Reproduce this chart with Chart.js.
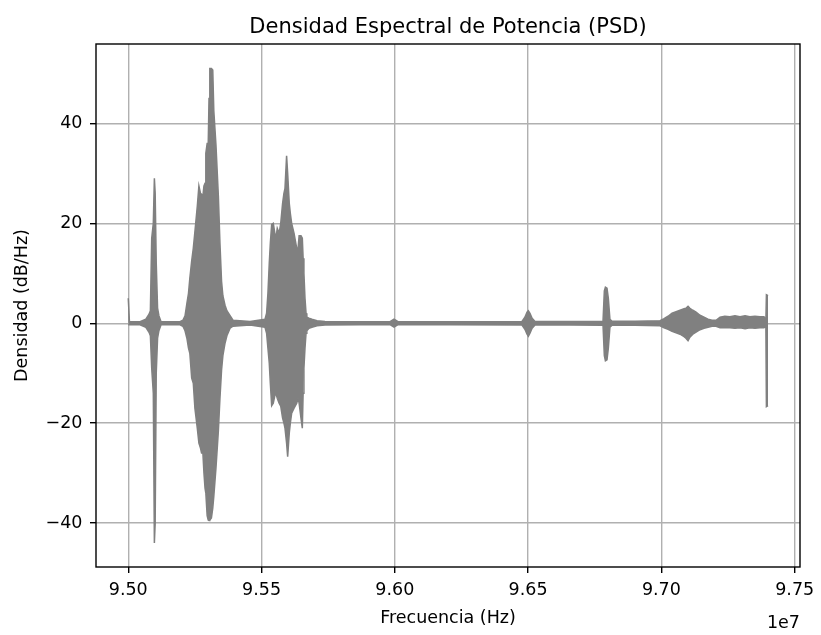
<!DOCTYPE html>
<html>
<head>
<meta charset="utf-8">
<script src="https://cdn.jsdelivr.net/npm/chart.js@4/dist/chart.umd.min.js"></script>
<style>
    body { margin: 0; background: #fff; }
    #wrap { width: 821px; height: 635px; }
</style>
</head>
<body>
<div id="wrap"><canvas id="psd_chart" width="821" height="635"></canvas></div>
<script>
// frequency (MHz) with upper / lower envelope of the PSD trace (dB/Hz)
const freqMHz = [
    95.000, 95.0045, 95.044, 95.066, 95.078, 95.083, 95.088, 95.094, 95.098, 95.101,
    95.105, 95.110, 95.115, 95.123, 95.156, 95.194, 95.205, 95.213, 95.220, 95.226,
    95.231, 95.238, 95.244, 95.250, 95.259, 95.265, 95.271, 95.275, 95.280, 95.284,
    95.288, 95.291, 95.296, 95.300, 95.303, 95.306, 95.312, 95.317, 95.321, 95.329,
    95.338, 95.344, 95.350, 95.355, 95.363, 95.370, 95.382, 95.393, 95.457, 95.513,
    95.519, 95.524, 95.529, 95.533, 95.538, 95.544, 95.550, 95.554, 95.559, 95.566,
    95.572, 95.579, 95.584, 95.588, 95.594, 95.598, 95.604, 95.608, 95.613, 95.622,
    95.632, 95.637, 95.641, 95.648, 95.653, 95.656, 95.659, 95.663, 95.667, 95.670,
    95.678, 95.689, 95.708, 95.738, 95.869, 95.982, 95.997, 96.012, 96.207, 96.477,
    96.488, 96.496, 96.501, 96.507, 96.515, 96.526, 96.657, 96.781, 96.786, 96.790,
    96.796, 96.801, 96.807, 96.815, 96.901, 96.995, 97.010, 97.025, 97.040, 97.055,
    97.070, 97.085, 97.092, 97.100, 97.107, 97.118, 97.130, 97.145, 97.160, 97.175,
    97.190, 97.205, 97.220, 97.238, 97.257, 97.276, 97.295, 97.314, 97.332, 97.351,
    97.370, 97.385, 97.392, 97.394, 97.400
];
const psdUpper = [
    5, 0.3, 0.3, 0.8, 1.8, 2.5, 17, 20, 29, 26,
    12, 3, 1.5, 0.3, 0.3, 0.3, 0.6, 1.5, 4, 6,
    9, 12.5, 15, 18.3, 23.4, 27.5, 26, 25.8, 25.5, 27.5,
    28, 34, 36, 36, 45, 51, 51, 50.7, 42.5, 35.7,
    25.5, 16, 8.4, 5.5, 3.6, 2.5, 1.5, 0.6, 0.35, 0.8,
    2, 6, 12, 16, 19.8, 20, 18, 17, 19, 18,
    20, 24, 26, 27, 33.5, 30, 24, 22, 20, 18,
    15, 15, 17.5, 17.5, 17, 13, 10, 5, 2, 1.2,
    1, 0.8, 0.5, 0.35, 0.3, 0.3, 0.8, 0.3, 0.3, 0.35,
    1.2, 2.2, 2.5, 2, 1, 0.35, 0.35, 0.4, 6.5, 7.2,
    7, 5, 0.8, 0.4, 0.4, 0.5, 0.9, 1.4, 2, 2.3,
    2.6, 2.9, 3, 3.4, 3, 2.6, 2.2, 1.6, 1.2, 0.8,
    0.6, 0.6, 1.2, 1.4, 1.3, 1.5, 1.3, 1.5, 1.3, 1.4,
    1.3, 1.3, 0.6, 5.7, 5.5
];
const psdLower = [
    -0.3, -0.3, -0.3, -0.8, -1.8, -2.5, -9, -14, -44, -40,
    -10, -3, -1.5, -0.3, -0.3, -0.3, -0.6, -1.5, -3, -5,
    -6, -11, -12, -17, -21, -24, -25, -26, -26, -30,
    -33, -34, -38.5, -39.4, -39.5, -39.4, -39, -37, -34.6, -29,
    -21.6, -15, -9.4, -6.5, -4, -2.5, -1, -0.6, -0.35, -0.8,
    -2, -5, -8, -12, -16.5, -16, -14.5, -14, -15, -16,
    -16.6, -19, -20, -21, -24, -26.7, -22, -20, -18, -17,
    -16, -15, -16, -19, -21, -14, -9, -5, -2, -1.5,
    -1, -0.8, -0.5, -0.35, -0.3, -0.3, -0.8, -0.3, -0.3, -0.35,
    -1.2, -2.2, -2.6, -2, -1, -0.35, -0.35, -0.4, -6.5, -7.5,
    -7.3, -5, -0.8, -0.4, -0.4, -0.5, -0.9, -1.2, -1.6, -1.9,
    -2.2, -2.7, -3, -3.5, -2.8, -2.2, -1.8, -1.3, -1, -0.8,
    -0.6, -0.6, -0.9, -0.9, -0.9, -1, -0.9, -1.1, -0.9, -1,
    -0.9, -0.9, -0.6, -16.7, -16.5
];

// tick labels (x axis in units of 1e7 Hz)
const xTickVals = [9.50, 9.55, 9.60, 9.65, 9.70, 9.75];
const yTickVals = [-40, -20, 0, 20, 40];

const FONT = '"DejaVu Sans", Verdana, sans-serif';
const LINE = '#808080';

const upperPts = freqMHz.map((f, i) => ({ x: f * 1e6, y: psdUpper[i] }));
const lowerPts = freqMHz.map((f, i) => ({ x: f * 1e6, y: psdLower[i] }));

const framePlugin = {
    id: 'frame',
    afterDraw(chart) {
        const ctx = chart.ctx;
        const a = chart.chartArea;
        ctx.save();
        ctx.strokeStyle = '#000';
        ctx.lineWidth = 1.4;
        ctx.strokeRect(a.left, a.top, a.right - a.left, a.bottom - a.top);

        ctx.fillStyle = '#000';
        ctx.textAlign = 'center';
        ctx.textBaseline = 'alphabetic';
        ctx.font = '21px ' + FONT;
        ctx.fillText('Densidad Espectral de Potencia (PSD)', (a.left + a.right) / 2, 33);

        ctx.font = '17.5px ' + FONT;
        ctx.fillText('Frecuencia (Hz)', (a.left + a.right) / 2, 623);

        ctx.textAlign = 'right';
        ctx.fillText('1e7', a.right, 628);

        ctx.translate(22, (a.top + a.bottom) / 2);
        ctx.rotate(-Math.PI / 2);
        ctx.textAlign = 'center';
        ctx.textBaseline = 'middle';
        ctx.fillText('Densidad (dB/Hz)', 0, 0);
        ctx.restore();
    }
};

const ctx = document.getElementById('psd_chart').getContext('2d');

new Chart(ctx, {
    type: 'line',
    data: {
        datasets: [{
            label: 'PSD max',
            data: upperPts,
            borderColor: LINE,
            backgroundColor: LINE,
            borderWidth: 1.5,
            pointRadius: 0,
            tension: 0,
            fill: '+1'
        }, {
            label: 'PSD min',
            data: lowerPts,
            borderColor: LINE,
            backgroundColor: LINE,
            borderWidth: 1.5,
            pointRadius: 0,
            tension: 0,
            fill: false
        }]
    },
    options: {
        responsive: false,
        animation: false,
        devicePixelRatio: 1,
        layout: {
            padding: { top: 44, right: 21, left: 0, bottom: 0 }
        },
        plugins: {
            legend: { display: false },
            tooltip: { enabled: false },
            title: { display: false }
        },
        scales: {
            x: {
                type: 'linear',
                min: 94.879e6,
                max: 97.52e6,
                afterFit: scale => { scale.height = 68; },
                afterBuildTicks: scale => {
                    scale.ticks = xTickVals.map(v => ({ value: v * 1e7 }));
                },
                ticks: {
                    color: '#000',
                    padding: 6.5,
                    maxRotation: 0,
                    autoSkip: false,
                    font: { family: FONT, size: 17.5 },
                    callback: v => (v / 1e7).toFixed(2)
                },
                grid: {
                    color: '#b0b0b0',
                    lineWidth: 1.4,
                    tickColor: '#000',
                    tickLength: 6
                },
                border: { display: false }
            },
            y: {
                min: -48.8,
                max: 55.9,
                afterFit: scale => { scale.width = 96; },
                afterBuildTicks: scale => {
                    scale.ticks = yTickVals.map(v => ({ value: v }));
                },
                ticks: {
                    color: '#000',
                    padding: 7.5,
                    autoSkip: false,
                    font: { family: FONT, size: 17.5 },
                    callback: v => (v < 0 ? '\u2212' + Math.abs(v) : String(v))
                },
                grid: {
                    color: '#b0b0b0',
                    lineWidth: 1.4,
                    tickColor: '#000',
                    tickLength: 6
                },
                border: { display: false }
            }
        }
    },
    plugins: [framePlugin]
});
</script>
</body>
</html>
